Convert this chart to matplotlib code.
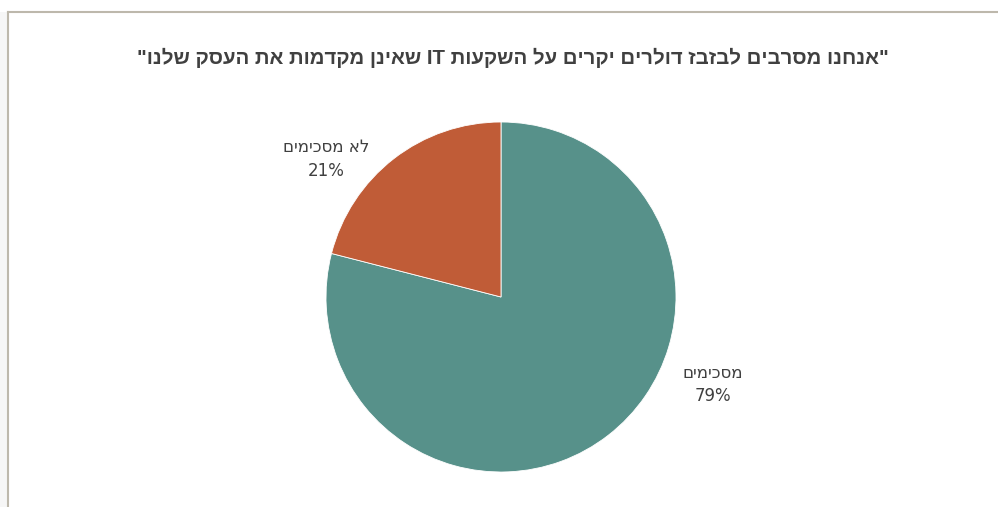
import matplotlib.pyplot as plt
from matplotlib.patches import Rectangle

# Data
categories = ["מסכימים", "לא מסכימים"]
values = [79, 21]
colors = ["#57918A", "#C05C37"]
title = '"אנחנו מסרבים לבזבז דולרים יקרים על השקעות IT שאינן מקדמות את העסק שלנו"'


def rtl(text):
    # matplotlib has no bidi support: reverse word order and Hebrew words
    words = text.split(" ")
    out = []
    for w in reversed(words):
        if any("\u0590" <= c <= "\u05ff" for c in w):
            out.append(w[::-1])
        else:
            out.append(w)
    return " ".join(out)


W, H = 998, 507
fig = plt.figure(figsize=(W / 100, H / 100), dpi=100)
fig.patch.set_facecolor("white")

# chart frame (top and left edge visible)
fig.add_artist(plt.Line2D([8 / W, 1], [1 - 12 / H, 1 - 12 / H], color="#BDB8AC", lw=1.5))
fig.add_artist(plt.Line2D([8 / W, 8 / W], [0, 1 - 12 / H], color="#BDB8AC", lw=1.5))
fig.add_artist(Rectangle((0, 0), 7 / W, 1 - 12 / H, transform=fig.transFigure,
                         facecolor="#F6F6F6", edgecolor="none"))

cx, cy, r = 501, 297, 175
ax = fig.add_axes([(cx - r) / W, (H - cy - r) / H, 2 * r / W, 2 * r / H])
ax.pie(values, colors=colors, startangle=90, counterclock=False, radius=1,
       wedgeprops=dict(edgecolor="white", linewidth=0.6))
ax.set_xlim(-1, 1)
ax.set_ylim(-1, 1)
ax.set_aspect("equal")
ax.axis("off")

label_pos = [(1.21, -0.50), (-1.0, 0.79)]
for cat, v, (lx, ly) in zip(categories, values, label_pos):
    ax.text(lx, ly, f"{rtl(cat)}\n{v}%", ha="center", va="center",
            fontsize=12, color="#404040", family=["DejaVu Sans"],
            linespacing=1.4, clip_on=False)

fig.text(513 / W, 1 - 58 / H, rtl(title), ha="center", va="center",
         fontsize=14.7, fontweight="bold", color="#404040",
         family=["Liberation Sans Narrow", "Liberation Sans", "DejaVu Sans"])

fig.savefig("out.png", dpi=100)
